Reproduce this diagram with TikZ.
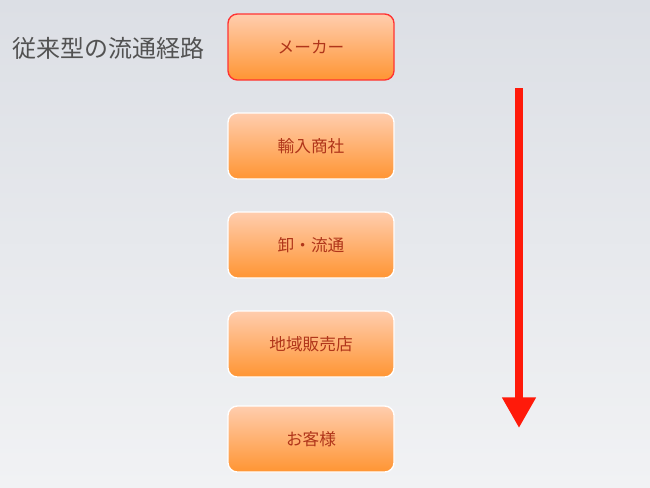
\documentclass[tikz,border=0pt]{standalone}
\usepackage{fontspec}
\newfontfamily\jpfont{Noto Sans CJK JP}
\usetikzlibrary{arrows.meta}

\definecolor{boxtop}{HTML}{FFCDAE}
\definecolor{boxbottom}{HTML}{FF9533}
\definecolor{boxtext}{HTML}{B0351A}
\definecolor{flowred}{HTML}{FF1A0A}
\definecolor{backtop}{HTML}{DCDFE5}
\definecolor{backbottom}{HTML}{F1F2F4}

\tikzset{
  flowbox/.style={line width=1pt, rounded corners=7pt,
    top color=boxtop, bottom color=boxbottom,
    minimum width=\boxwidth*0.75pt, minimum height=\boxheight*0.75pt,
    font=\jpfont\fontsize{12.5}{14}\selectfont, text=boxtext},
}

\begin{document}
\begin{tikzpicture}[x=0.75pt,y=-0.75pt]
  \def\boxwidth{166}
  \def\boxheight{66}
  \def\boxx{311}

  \shade[top color=backtop, bottom color=backbottom]
    (0,0) rectangle (650,487);
  \useasboundingbox (0,0) rectangle (650,487);

  \node[anchor=west, font=\jpfont\fontsize{18}{20}\selectfont, text=black!68]
    (title) at (8,48) {従来型の流通経路};

  \foreach \name/\y/\edge/\label in {maker/47/red!80/メーカー,
      importer/146/white/輸入商社, wholesale/245/white/卸・流通,
      shop/344/white/地域販売店, customer/439/white/お客様} {
    \node[flowbox, draw=\edge] (\name) at (\boxx,\y) {\label};
  }

  \coordinate (flowstart) at (519,88);
  \coordinate (flowend) at (519,428);
  \draw[flowred, line width=6pt, -{Triangle[width=24pt, length=23pt]}]
    (flowstart) -- (flowend);
\end{tikzpicture}
\end{document}
